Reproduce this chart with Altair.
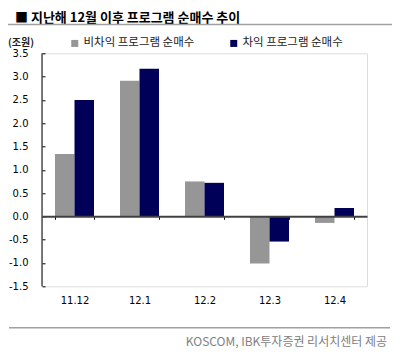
import altair as alt
import pandas as pd

months = ["11.12", "12.1", "12.2", "12.3", "12.4"]
series_names = ["비차익 프로그램 순매수", "차익 프로그램 순매수"]
non_arb = [1.34, 2.91, 0.75, -1.01, -0.14]
arb = [2.50, 3.17, 0.72, -0.54, 0.18]
y_ticks = [-1.5, -1.0, -0.5, 0.0, 0.5, 1.0, 1.5, 2.0, 2.5, 3.0, 3.5]

title_text = "■ 지난해 12월 이후 프로그램 순매수 추이"
unit_text = "(조원)"
source_text = "KOSCOM, IBK투자증권 리서치센터 제공"

rows = []
for i, m in enumerate(months):
    rows.append({"month": m, "series": series_names[0], "value": non_arb[i]})
    rows.append({"month": m, "series": series_names[1], "value": arb[i]})
df = pd.DataFrame(rows)

KR = "Noto Sans CJK KR"
NUM = "DejaVu Sans"

y_scale = alt.Scale(domain=[-1.5, 3.5], nice=False, zero=False)
y_axis = alt.Axis(title=None, values=y_ticks, offset=-3, tickSize=3, tickColor="#000000",
                  domain=False, grid=False, labelPadding=14, labelFont=NUM,
                  labelFontSize=10, labelColor="#000000", labelOverlap=False,
                  labelExpr="replace(format(datum.value, '.1f'), '\u2212', '-')")

bars = alt.Chart(df).mark_bar().encode(
    x=alt.X("month:N", sort=months,
            scale=alt.Scale(paddingInner=0.4, paddingOuter=0.2),
            axis=alt.Axis(title=None, offset=-70, domainColor="#404040", domainWidth=2,
                          tickBand="extent", tickColor="#000000", tickSize=3, tickWidth=1,
                          labelPadding=76, labelFont=NUM, labelFontSize=10, labelColor="#000000",
                          labelAngle=0, zindex=1)),
    xOffset=alt.XOffset("series:N", sort=series_names),
    y=alt.Y("value:Q", scale=y_scale, axis=y_axis),
    color=alt.Color("series:N", sort=series_names,
                    scale=alt.Scale(domain=series_names, range=["#969696", "#000058"]),
                    legend=alt.Legend(title=None, orient="none", direction="horizontal",
                                      legendX=27, legendY=-16, padding=0,
                                      symbolType="square", symbolSize=49, symbolStrokeWidth=0,
                                      labelFont=KR, labelFontSize=11.5, labelColor="#222222",
                                      labelOffset=3, columnPadding=33)),
)

yline = alt.Chart(pd.DataFrame({"value": [y_ticks[0]], "b": [y_ticks[-1]]})).mark_rule(
    color="#000000", strokeWidth=1).encode(
    x=alt.value(0), y=alt.Y("value:Q", scale=y_scale, axis=y_axis), y2="b:Q")

txt = pd.DataFrame({"t": [title_text]})
title = alt.Chart(txt).mark_text(align="left", baseline="middle", font=KR, fontSize=13,
                                 fontWeight="bold", color="#000000").encode(
    x=alt.value(-27), y=alt.value(-35), text="t:N")

unit = alt.Chart(pd.DataFrame({"t": [unit_text]})).mark_text(
    align="left", baseline="middle", font=KR, fontSize=10, fontWeight="bold",
    color="#222222").encode(x=alt.value(-34), y=alt.value(-10.5), text="t:N")

src = alt.Chart(pd.DataFrame({"t": [source_text]})).mark_text(
    align="right", baseline="middle", font=KR, fontSize=12, color="#808080").encode(
    x=alt.value(345), y=alt.value(288.7), text="t:N")

top_line = alt.Chart(pd.DataFrame({"k": [0]})).mark_rule(color="#a0a0a0", strokeWidth=1.5).encode(
    x=alt.value(-34), x2=alt.value(350.7), y=alt.value(-28.8))
bot_line = alt.Chart(pd.DataFrame({"k": [0]})).mark_rule(color="#a0a0a0", strokeWidth=1.5).encode(
    x=alt.value(-33), x2=alt.value(348), y=alt.value(274.4))

chart = alt.layer(bars, yline, title, unit, src, top_line, bot_line).properties(
    width=325, height=233,
    autosize=alt.AutoSizeParams(type="none"),
    padding={"left": 34, "top": 45.3, "right": 25, "bottom": 62},
).configure_view(stroke=None).configure(background="#ffffff")

chart.save("out.html", embed_options={"renderer": "svg", "actions": False})
